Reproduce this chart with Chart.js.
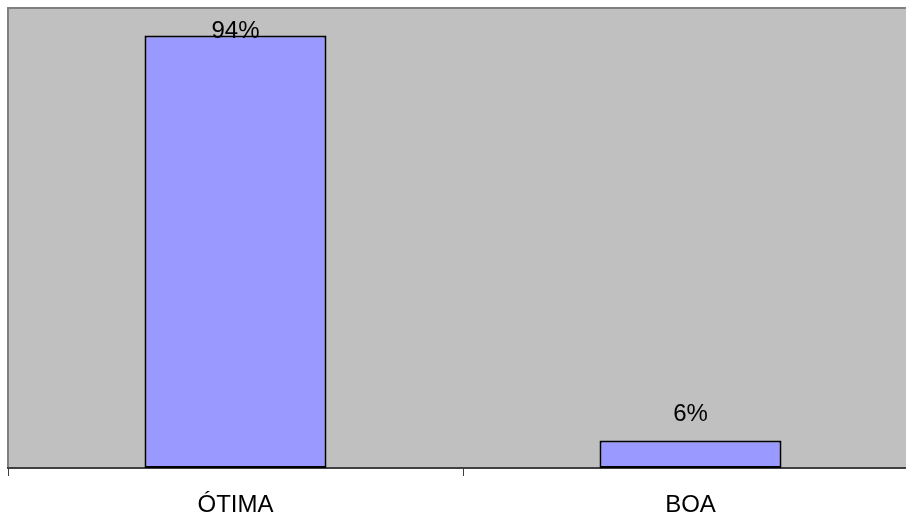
<!DOCTYPE html>
<html>
<head>
<meta charset="utf-8">
<script src="https://cdn.jsdelivr.net/npm/chart.js@4/dist/chart.umd.min.js"></script>
<style>
  html, body { margin: 0; padding: 0; background: #ffffff; overflow: hidden; }
  #wrap { width: 918px; height: 534px; position: relative; }
</style>
</head>
<body>
<div id="wrap"><canvas id="chart"></canvas></div>
<script>
// Avaliação: share of answers per rating
const categories = ['ÓTIMA', 'BOA'];
const percentages = [94, 6];

const FONT = '"Liberation Sans", Arial, sans-serif';

// Grey plot background with a thin frame on the top and left sides
const plotBackground = {
  id: 'plotBackground',
  beforeDraw(chart) {
    const { ctx, chartArea: a } = chart;
    ctx.save();
    ctx.fillStyle = '#C0C0C0';
    ctx.fillRect(a.left, a.top, a.right - a.left, a.bottom - a.top);
    ctx.strokeStyle = '#808080';
    ctx.lineWidth = 2;
    ctx.beginPath();
    ctx.moveTo(a.left, a.bottom);
    ctx.lineTo(a.left, a.top);
    ctx.lineTo(a.right, a.top);
    ctx.stroke();
    ctx.restore();
  }
};

// Percentage label above each bar, kept inside the plot area
const valueLabels = {
  id: 'valueLabels',
  afterDatasetsDraw(chart) {
    const { ctx, chartArea: a } = chart;
    const meta = chart.getDatasetMeta(0);
    ctx.save();
    ctx.font = '24px ' + FONT;
    ctx.fillStyle = '#000000';
    ctx.textAlign = 'center';
    ctx.textBaseline = 'alphabetic';
    meta.data.forEach((bar, i) => {
      const y = Math.max(bar.y - 19, a.top + 30);
      ctx.fillText(percentages[i] + '%', bar.x, y);
    });
    ctx.restore();
  }
};

new Chart(document.getElementById('chart'), {
  type: 'bar',
  data: {
    labels: categories,
    datasets: [{
      data: percentages,
      backgroundColor: '#9999FF',
      borderColor: '#000000',
      borderWidth: 2,
      borderSkipped: false,
      barPercentage: 0.4,
      categoryPercentage: 1.0
    }]
  },
  options: {
    responsive: true,
    maintainAspectRatio: false,
    animation: false,
    layout: { padding: { left: 8, top: 8, right: 0, bottom: 0 } },
    plugins: {
      legend: { display: false },
      tooltip: { enabled: false }
    },
    scales: {
      x: {
        offset: true,
        border: { display: true, color: '#404040', width: 2 },
        grid: {
          display: true,
          drawOnChartArea: false,
          drawTicks: true,
          tickLength: 8,
          color: '#404040',
          lineWidth: 1,
          offset: true
        },
        ticks: {
          color: '#000000',
          padding: 17,
          font: { family: FONT, size: 24, lineHeight: 1.0 }
        }
      },
      y: {
        display: false,
        min: 0,
        max: 100
      }
    }
  },
  plugins: [plotBackground, valueLabels]
});
</script>
</body>
</html>
